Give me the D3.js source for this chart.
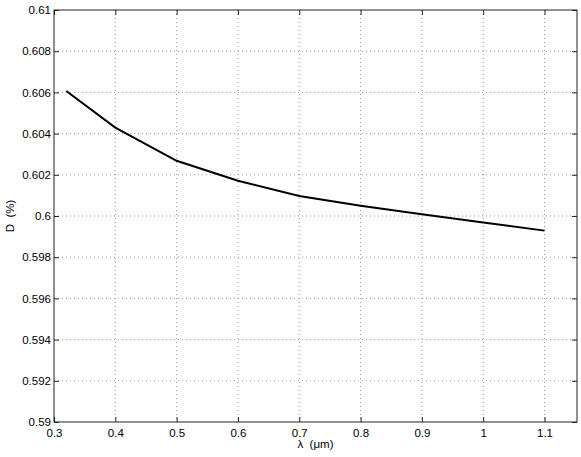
<!DOCTYPE html>
<html>
<head>
<meta charset="utf-8">
<script src="https://cdn.jsdelivr.net/npm/d3@7"></script>
<style>
  body { margin: 0; background: #fff; }
  svg { display: block; }
  text { font-family: "Liberation Sans", Arial, sans-serif; }
  .grid line { stroke: #999; stroke-width: 1; stroke-dasharray: 1, 3; }
  .tick text { font-size: 11.5px; fill: #000; font-family: "Liberation Sans", Arial, sans-serif; }
</style>
</head>
<body>
<svg width="581" height="457"></svg>
<script>
var wavelength = [0.32, 0.4, 0.5, 0.6, 0.7, 0.8, 0.9, 1.0, 1.1];
var dValues = [0.60607, 0.60429, 0.60268, 0.60171, 0.60097, 0.60050, 0.60009, 0.59969, 0.59929];
var xTicks = [0.3, 0.4, 0.5, 0.6, 0.7, 0.8, 0.9, 1, 1.1];
var yTicks = [0.59, 0.592, 0.594, 0.596, 0.598, 0.6, 0.602, 0.604, 0.606, 0.608, 0.61];

var svg = d3.select("svg"),
    margin = {left: 54, right: 4, top: 10, bottom: 35},
    width = +svg.attr("width") - margin.left - margin.right,
    height = +svg.attr("height") - margin.top - margin.bottom;

var x = d3.scaleLinear().domain([0.3, 1.153]).range([0, width]);
var y = d3.scaleLinear().domain([0.59, 0.61]).range([height, 0]);

var g = svg.append("g").attr("transform", "translate(" + margin.left + "," + margin.top + ")");

// grid
var grid = g.append("g").attr("class", "grid");
grid.selectAll(".vx").data(xTicks.slice(1)).enter().append("line")
    .attr("x1", d => x(d)).attr("x2", d => x(d))
    .attr("y1", 0).attr("y2", height);
grid.selectAll(".hy").data(yTicks.slice(1, -1)).enter().append("line")
    .attr("x1", 0).attr("x2", width)
    .attr("y1", d => y(d)).attr("y2", d => y(d));

// axes with inward ticks
var fmt = d => String(+d.toFixed(3));
g.append("g").attr("transform", "translate(0," + height + ")")
    .call(d3.axisBottom(x).tickValues(xTicks).tickFormat(fmt).tickSizeInner(-5).tickSizeOuter(0).tickPadding(7))
    .call(a => a.select(".domain").remove());
g.append("g")
    .call(d3.axisTop(x).tickValues(xTicks).tickFormat("").tickSizeInner(-5).tickSizeOuter(0))
    .call(a => a.select(".domain").remove());
g.append("g")
    .call(d3.axisLeft(y).tickValues(yTicks).tickFormat(fmt).tickSizeInner(-5).tickSizeOuter(0).tickPadding(3))
    .call(a => a.select(".domain").remove());
g.append("g").attr("transform", "translate(" + width + ",0)")
    .call(d3.axisRight(y).tickValues(yTicks).tickFormat("").tickSizeInner(-5).tickSizeOuter(0))
    .call(a => a.select(".domain").remove());
g.selectAll(".tick line").attr("stroke", "#222");

// box
g.append("rect").attr("width", width).attr("height", height)
    .attr("fill", "none").attr("stroke", "#222").attr("stroke-width", 1);

// curve
g.append("path")
    .datum(wavelength.map((w, i) => [w, dValues[i]]))
    .attr("fill", "none").attr("stroke", "#000").attr("stroke-width", 2)
    .attr("d", d3.line().x(d => x(d[0])).y(d => y(d[1])));

// labels
svg.append("text")
    .attr("x", margin.left + width / 2).attr("y", 448)
    .attr("text-anchor", "middle").attr("font-size", 11.5)
    .text("\u03bb\u00a0 (\u03bcm)");
svg.append("text")
    .attr("transform", "translate(14," + (margin.top + height / 2) + ") rotate(-90)")
    .attr("text-anchor", "middle").attr("font-size", 11.5)
    .text("D\u00a0 (%)");
</script>
</body>
</html>
